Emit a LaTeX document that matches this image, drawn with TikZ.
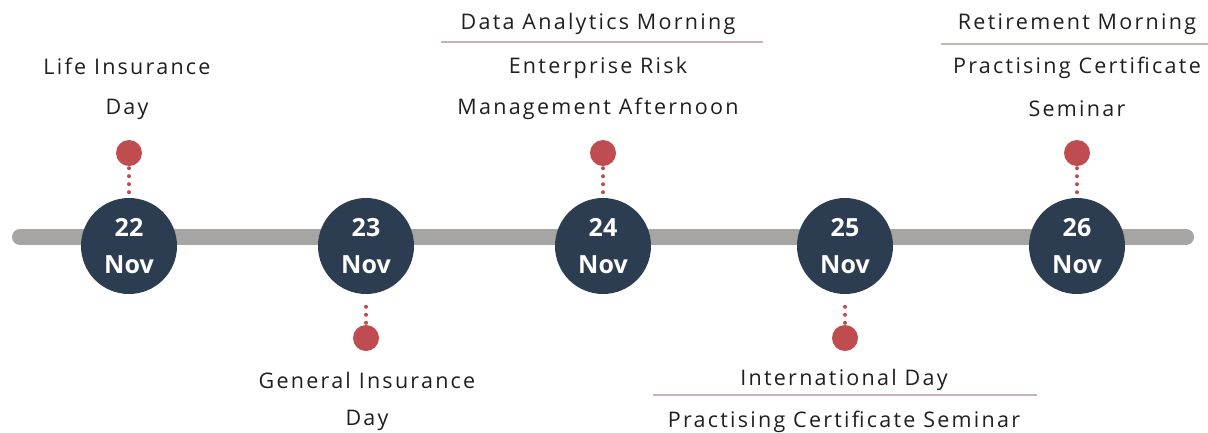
\documentclass[tikz,border=0pt]{standalone}
\usepackage{fontspec}
\setmainfont{Open Sans}[LetterSpace=10.5]
\newfontfamily\datefont{Open Sans}[UprightFont=* Bold]
\definecolor{barc}{HTML}{A6A5A3}
\definecolor{navy}{HTML}{2C3D51}
\definecolor{redd}{HTML}{BF4D4F}
\definecolor{rulec}{HTML}{C9B3B3}
\begin{document}
\begin{tikzpicture}[x=1pt,y=-1pt,
  datecirc/.style={circle,fill=navy,minimum size=96pt,inner sep=0pt,text=white,
    font=\datefont\fontsize{25}{37}\selectfont,align=center},
  reddot/.style={circle,fill=redd,minimum size=26pt,inner sep=0pt},
  dotline/.style={redd,line width=4pt,line cap=round,dash pattern=on 0pt off 8pt},
  lbl/.style={font=\fontsize{21.5}{25}\selectfont,text=black!88,inner sep=0pt},
  seprule/.style={rulec,line width=1.8pt}]
\useasboundingbox (0,0) rectangle (1208,432);
\draw[barc,line width=16pt,line cap=round] (20,237) -- (1186,237);
\foreach \n/\x/\d in {a/129/22,b/366/23,c/603/24,d/845/25,e/1077/26}{
  \node[datecirc] (c\n) at (\x,246) {\d\\Nov};
}
% top dots
\foreach \n/\x in {a/129,c/603,e/1077}{
  \node[reddot] (r\n) at (\x,153) {};
  \draw[dotline] ([yshift=-2pt]r\n.south) -- ([yshift=5pt]c\n.north);
}
\foreach \n/\x in {b/366,d/845}{
  \node[reddot] (r\n) at (\x,338) {};
  \draw[dotline] ([yshift=2pt]r\n.north) -- ([yshift=-5pt]c\n.south);
}
% labels
\node[lbl] (la1) at (127,66) {Life Insurance};
\node[lbl] (la2) at (127,109) {Day};
\node[lbl] (lc1) at (598,24) {Data Analytics Morning};
\node[lbl] (lc2) at (598,68) {Enterprise Risk};
\node[lbl] (lc3) at (598,109) {Management Afternoon};
\node[lbl] (le1) at (1077,24) {Retirement Morning};
\node[lbl] (le2) at (1077,68) {Practising Certificate};
\node[lbl] (le3) at (1077,109) {Seminar};
\node[lbl] (lb1) at (367,380) {General Insurance};
\node[lbl] (lb2) at (367,420) {Day};
\node[lbl] (ld1) at (844,380) {International Day};
\node[lbl] (ld2) at (844,422) {Practising Certificate Seminar};
\coordinate (s1a) at (441,42); \coordinate (s1b) at (763,42);
\coordinate (s2a) at (941,44); \coordinate (s2b) at (1208,44);
\coordinate (s3a) at (653,395); \coordinate (s3b) at (1037,395);
\draw[seprule] (s1a) -- (s1b);
\draw[seprule] (s2a) -- (s2b);
\draw[seprule] (s3a) -- (s3b);
\end{tikzpicture}
\end{document}
